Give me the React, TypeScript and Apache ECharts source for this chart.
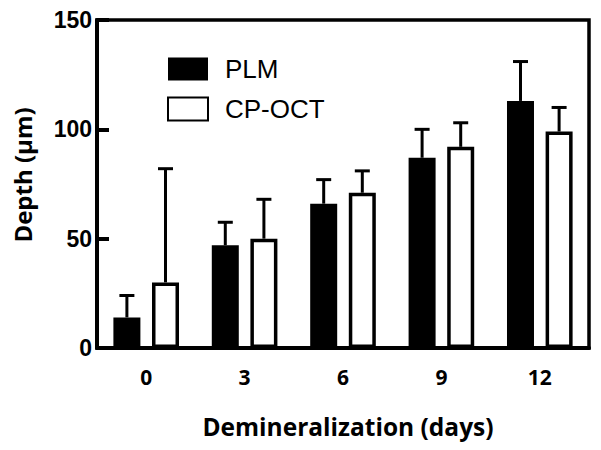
import React, { useEffect, useRef } from "react";
import * as echarts from "echarts";

const categories = ["0", "3", "6", "9", "12"];
const plmValues = [14, 47, 66, 87, 113];
const plmErrors = [10, 10.5, 11, 13, 18];
const octValues = [30, 50, 71, 92, 99];
const octErrors = [52, 18, 10, 11, 11];
const yTicks = { min: 0, max: 150, interval: 50 };

const BAR_W = 27;
const BAR_GAP = 0.43;
const OFFSET = (BAR_W + BAR_W * BAR_GAP) / 2;

function errorSeries(name: string, values: number[], errs: number[], offset: number) {
  return {
    type: "custom",
    name,
    silent: true,
    z: 5,
    data: categories.map((_, i) => [i, values[i], errs[i]]),
    renderItem: (params: any, api: any) => {
      const idx = api.value(0);
      const v = api.value(1);
      const e = api.value(2);
      const base = api.coord([idx, v]);
      const top = api.coord([idx, v + e]);
      const x = base[0] + offset;
      const cap = 7.5;
      return {
        type: "group",
        children: [
          { type: "line", shape: { x1: x, y1: base[1], x2: x, y2: top[1] }, style: { stroke: "#000", lineWidth: 3 } },
          { type: "line", shape: { x1: x - cap, y1: top[1], x2: x + cap, y2: top[1] }, style: { stroke: "#000", lineWidth: 3 } },
        ],
      };
    },
  };
}

export default function App() {
  const ref = useRef<HTMLDivElement>(null);
  useEffect(() => {
    if (!ref.current) return;
    const chart = echarts.init(ref.current, null, { renderer: "svg" });
    chart.setOption({
      animation: false,
      backgroundColor: "#fff",
      grid: { left: 97, right: 12, top: 20, bottom: 102, show: true, borderColor: "#000", borderWidth: 3.5, backgroundColor: "transparent" },
      legend: {
        data: ["PLM", "CP-OCT"],
        orient: "vertical",
        left: 162,
        top: 51,
        itemWidth: 40,
        itemHeight: 23,
        itemGap: 14,
        icon: "rect",
        textStyle: { fontFamily: "Liberation Sans", fontSize: 26, color: "#000", padding: [0, 0, 0, 12] },
      },
      xAxis: {
        type: "category",
        data: categories,
        axisLine: { lineStyle: { color: "#000", width: 4 } },
        axisTick: { show: false },
        axisLabel: { fontFamily: "Open Sans", fontWeight: "bold", fontSize: 21, color: "#000", margin: 18 },
      },
      yAxis: {
        type: "value",
        min: yTicks.min,
        max: yTicks.max,
        interval: yTicks.interval,
        splitLine: { show: false },
        axisLine: { show: true, lineStyle: { color: "#000", width: 4 } },
        axisTick: { show: true, inside: true, length: 12, lineStyle: { color: "#000", width: 4 } },
        axisLabel: { fontFamily: "Liberation Sans", fontWeight: "bold", fontSize: 23, color: "#000", margin: 5 },
      },
      graphic: [
        {
          type: "text",
          x: 22,
          y: 175,
          rotation: Math.PI / 2,
          style: { text: "Depth (µm)", fontFamily: "Open Sans", fontWeight: "bold", fontSize: 24, fill: "#000", textAlign: "center", textVerticalAlign: "middle" },
        },
        {
          type: "text",
          x: 348,
          y: 426,
          style: { text: "Demineralization (days)", fontFamily: "Open Sans", fontWeight: "bold", fontSize: 24.5, fill: "#000", textAlign: "center", textVerticalAlign: "middle" },
        },
      ],
      series: [
        {
          type: "bar",
          name: "PLM",
          data: plmValues,
          barWidth: BAR_W,
          barGap: BAR_GAP * 100 + "%",
          itemStyle: { color: "#000" },
        },
        {
          type: "bar",
          name: "CP-OCT",
          data: octValues,
          barWidth: BAR_W,
          barGap: BAR_GAP * 100 + "%",
          itemStyle: { color: "#fff", borderColor: "#000", borderWidth: 3.5 },
        },
        errorSeries("PLM err", plmValues, plmErrors, -OFFSET),
        errorSeries("CP-OCT err", octValues, octErrors, OFFSET),
      ],
    });
    return () => chart.dispose();
  }, []);
  return <div ref={ref} style={{ width: 601, height: 450, position: "absolute", left: 0, top: 0 }} />;
}
